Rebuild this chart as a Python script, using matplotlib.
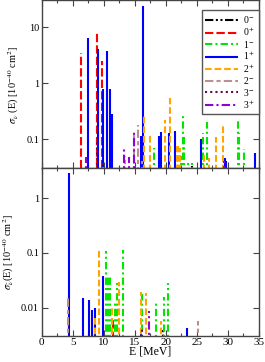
import numpy as np
import matplotlib
matplotlib.use("Agg")
from matplotlib import pyplot as plt

plt.rcParams['font.family'] = 'serif'
plt.rcParams['font.serif'] = ['Liberation Serif', 'DejaVu Serif']
plt.rcParams['mathtext.fontset'] = 'stix'

# canales (J^pi): etiqueta, color, estilo de linea
canales = ['0-', '0+', '1-', '1+', '2+', '2-', '3-', '3+']
etiquetas = ['0$^{-}$', '0$^{+}$', '1$^{-}$', '1$^{+}$', '2$^{+}$', '2$^{-}$', '3$^{-}$', '3$^{+}$']
colores = ['#000000', '#ff0000', '#00e600', '#0000ff', '#ffa500', '#bc8f8f', '#670748', '#9400d3']
estilos = [(0, (4, 1.2, 1, 1.2, 1, 1.2)), (0, (4, 1.5)), (0, (3.5, 1.5, 1, 1.5)), '-',
           (0, (3.2, 1.4)), (0, (4, 1.5, 2, 1.5)), (0, (1, 1.5)), (0, (4, 1.5, 1, 1.5))]

# seccion eficaz neutrino (panel superior)
E_nu = {
    '0-': [24.2],
    '0+': [6.3, 8.85, 9.7],
    '1-': [18.1, 22.5, 22.85, 23.0, 23.6, 24.3, 26.0, 26.6, 31.7, 31.9, 32.7],
    '1+': [7.5, 9.0, 9.9, 10.5, 11.0, 11.35, 15.95, 16.25, 18.95, 19.3, 20.6, 21.5, 25.75, 29.5, 29.7, 34.4],
    '2+': [16.55, 17.4, 19.85, 20.75, 21.8, 22.0, 22.3, 26.2, 27.0, 28.1, 29.3],
    '2-': [9.85, 13.45, 14.9, 15.5, 16.1],
    '3-': [8.85, 9.8, 15.3],
    '3+': [7.15, 13.2, 14.0, 14.8, 29.4],
}
s_nu = {
    '0-': [0.033],
    '0+': [3.5, 7.8, 2.5],
    '1-': [0.07, 0.05, 0.26, 0.12, 0.043, 0.04, 0.128, 0.2, 0.22, 0.13, 0.066],
    '1+': [6.5, 4.0, 0.78, 3.7, 0.78, 0.28, 0.115, 24.0, 0.115, 0.135, 0.13, 0.14, 0.1, 0.045, 0.04, 0.057],
    '2+': [0.28, 0.125, 0.215, 0.55, 0.075, 0.075, 0.07, 0.057, 0.045, 0.11, 0.18],
    '2-': [0.037, 0.05, 0.12, 0.18, 0.04],
    '3-': [0.1, 0.04, 0.035],
    '3+': [0.048, 0.067, 0.048, 0.137, 0.04],
}

# seccion eficaz antineutrino (panel inferior)
E_nubar = {
    '0-': [19.6],
    '0+': [11.55],
    '1-': [10.4, 10.6, 11.0, 11.8, 12.2, 13.15, 16.1, 18.45, 19.8, 20.4],
    '1+': [4.45, 6.6, 7.55, 8.15, 8.65, 9.95, 16.0, 23.4],
    '2+': [8.55, 9.25, 11.3, 11.4, 12.5, 16.0, 16.8, 19.2],
    '2-': [4.2, 25.15],
    '3-': [16.1],
    '3+': [17.3],
}
s_nubar = {
    '0-': [0.0039],
    '0+': [0.0064],
    '1-': [0.11, 0.039, 0.039, 0.012, 0.028, 0.114, 0.018, 0.013, 0.0155, 0.028],
    '1+': [2.9, 0.0148, 0.0136, 0.009, 0.0097, 0.038, 0.0042, 0.0042],
    '2+': [0.0069, 0.125, 0.005, 0.0097, 0.029, 0.0195, 0.0187, 0.0056],
    '2-': [0.016, 0.0056],
    '3-': [0.004],
    '3+': [0.0088],
}

fig = plt.figure(figsize=(2.65, 3.62), dpi=100)
ax1 = fig.add_axes([0.158, 0.535, 0.818, 0.464])
ax2 = fig.add_axes([0.158, 0.071, 0.818, 0.464])

def dibujar(ax, E, s, ylim):
    for k, c in enumerate(canales):
        ax.vlines(E[c], 1e-5, s[c], colors=colores[k], linestyles=[estilos[k]],
                  linewidth=1.5, label=etiquetas[k])
    ax.set_yscale('log')
    ax.set_ylim(*ylim)
    ax.set_xlim(0, 35)
    ax.set_xticks(np.arange(0, 36, 5))
    ax.set_xticks(np.arange(2.5, 35, 5), minor=True)
    ax.yaxis.set_minor_locator(matplotlib.ticker.NullLocator())
    ax.tick_params(which='both', direction='in', top=True, right=True,
                   color='#444444', width=0.8)
    ax.tick_params(axis='x', labelsize=8, pad=1)
    ax.tick_params(axis='y', labelsize=7.5, pad=2)
    ax.tick_params(which='major', length=4)
    ax.tick_params(which='minor', length=2)
    for sp in ax.spines.values():
        sp.set_color('#444444')
        sp.set_linewidth(1.0)

dibujar(ax1, E_nu, s_nu, (0.03, 30))
ax1.set_yticks([0.1, 1, 10])
ax1.set_yticklabels(['0.1', '1', '10'])
ax1.tick_params(labelbottom=False)
ax1.set_ylabel(r'$\sigma_{\nu}$ (E) [10$^{-40}$ cm$^{2}$]', fontsize=7.5, labelpad=4)
leg = ax1.legend(loc='upper right', bbox_to_anchor=(1.0, 0.94), borderaxespad=0.0,
                 fontsize=7, labelspacing=0.05, handlelength=3.4, handletextpad=0.5,
                 fancybox=False, framealpha=1, edgecolor='#555555', borderpad=0.4)
leg.get_frame().set_linewidth(1.0)

dibujar(ax2, E_nubar, s_nubar, (0.003, 3.5))
ax2.set_yticks([0.01, 0.1, 1])
ax2.set_yticklabels(['0.01', '0.1', '1'])
ax2.set_ylabel(r'$\sigma_{\bar{\nu}}$(E) [10$^{-40}$ cm$^{2}$]', fontsize=7.5, labelpad=4)
ax2.set_xlabel('E [MeV]', fontsize=8.5, labelpad=-1)

plt.savefig('out.png', dpi=100)
